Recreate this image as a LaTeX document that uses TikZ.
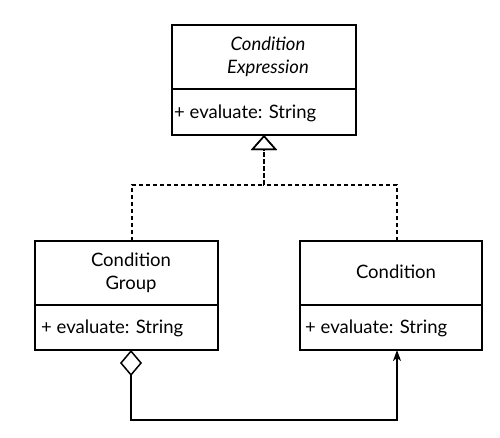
\documentclass[tikz,border=0pt]{standalone}
\usepackage{fontspec}
\setmainfont{Lato}
\usetikzlibrary{arrows.meta}
\tikzset{
  box/.style={draw, line width=1.5pt, rectangle, inner sep=0pt, outer sep=0pt, anchor=north west},
  lbl/.style={font=\fontsize{18.5}{23}\selectfont, inner sep=0pt, align=center},
  attr/.style={font=\fontsize{18.5}{23}\selectfont, inner sep=0pt, anchor=west},
  realize/.style={line width=1.5pt, dash pattern=on 4pt off 3pt, -{Triangle[open, length=15pt, width=26pt, line width=1.5pt]}},
  aggr/.style={line width=1.5pt, {Diamond[open, length=26pt, width=22pt, line width=1.5pt]}-{Stealth[length=11pt, width=8pt, inset=3pt]}}
}
\begin{document}
\begin{tikzpicture}[x=1pt, y=-1pt]
\useasboundingbox (0,0) rectangle (500,437);
% Condition Expression
\node[box, minimum width=184pt, minimum height=64pt] (ceN) at (172,25) {};
\node[box, minimum width=184pt, minimum height=46pt] (ceA) at (172,89) {};
\node[lbl] (ceT) at (268,56.5) {\itshape Condition\\\itshape Expression};
\node[attr] (ceF) at (174,113) {+ evaluate: String};
% Condition Group
\node[box, minimum width=183pt, minimum height=64pt] (cgN) at (35,241) {};
\node[box, minimum width=183pt, minimum height=45pt] (cgA) at (35,305) {};
\node[lbl] (cgT) at (131,272.5) {Condition\\Group};
\node[attr] (cgF) at (41,328) {+ evaluate: String};
% Condition
\node[box, minimum width=182pt, minimum height=64pt] (cN) at (300,241) {};
\node[box, minimum width=182pt, minimum height=45pt] (cA) at (300,305) {};
\node[lbl] (cT) at (396,272) {Condition};
\node[attr] (cF) at (305,328) {+ evaluate: String};
% realization
\coordinate (j) at (264,185);
\draw[realize] ([xshift=5.5pt]cgN.north) |- (j) -- (ceA.south);
\draw[realize] ([xshift=6pt]cN.north) |- (j) -- (ceA.south);
% aggregation
\draw[aggr] ([xshift=4.5pt]cgA.south) -- ++(0,70) -| ([xshift=6pt]cA.south);
\end{tikzpicture}
\end{document}
